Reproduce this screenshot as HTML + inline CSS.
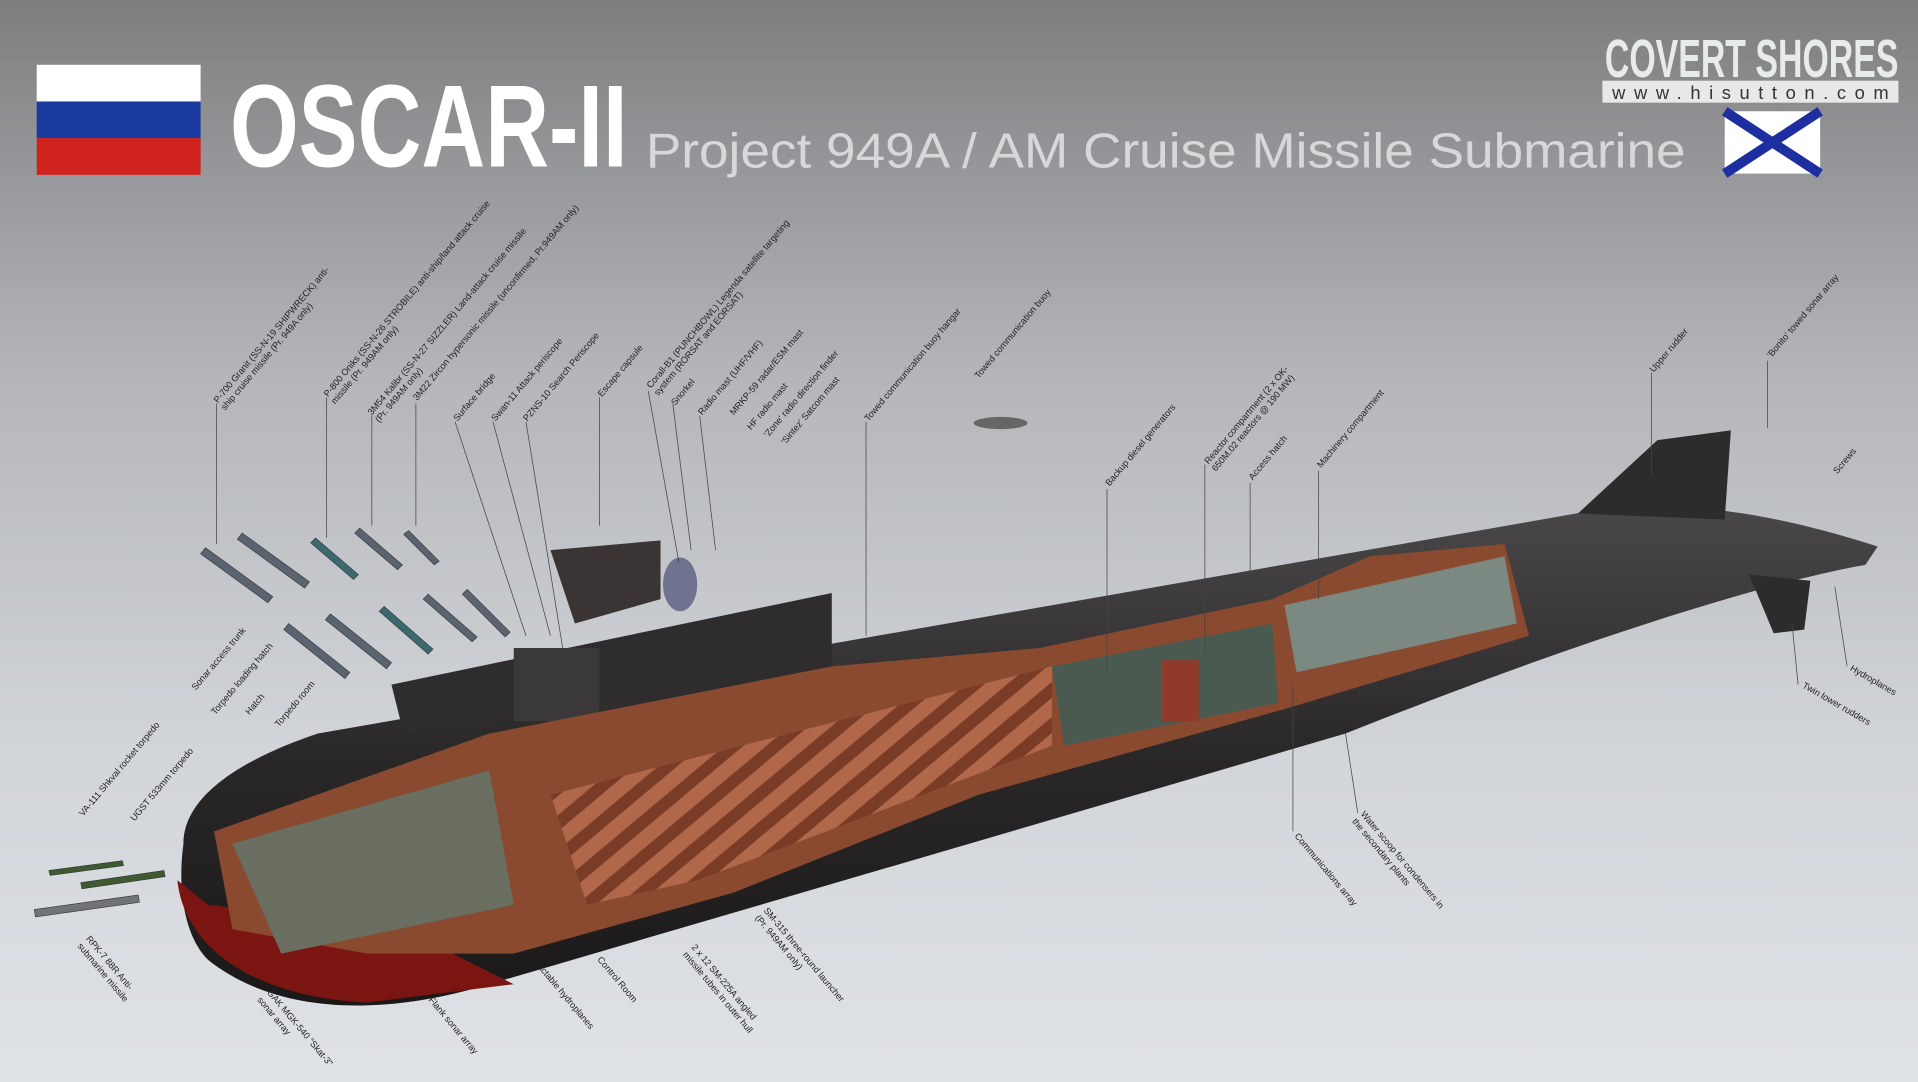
<!DOCTYPE html>
<html><head><meta charset="utf-8"><style>
html,body{margin:0;padding:0;width:1918px;height:1082px;overflow:hidden;background:#a0a2a6}
svg{display:block}
text{font-family:"Liberation Sans",sans-serif}
.l{font-size:7.5px;fill:#222}
</style></head><body>
<svg width="1918" height="1082" viewBox="0 0 1568 885" preserveAspectRatio="none">
<defs>
<linearGradient id="bg" x1="0" y1="0" x2="0" y2="1">
<stop offset="0" stop-color="#7e7e80"/><stop offset="0.35" stop-color="#b4b6ba"/><stop offset="0.7" stop-color="#d2d5d9"/><stop offset="1" stop-color="#dfe2e6"/></linearGradient>
<linearGradient id="hull" x1="0" y1="0" x2="0" y2="1">
<stop offset="0" stop-color="#4a4748"/><stop offset="0.5" stop-color="#2a2728"/><stop offset="1" stop-color="#1a1818"/></linearGradient>
<pattern id="tubes" width="22" height="22" patternUnits="userSpaceOnUse" patternTransform="rotate(50)">
<rect width="22" height="22" fill="#7a3c26"/><rect width="12" height="22" fill="#b0674a"/></pattern>
</defs>
<rect width="1568" height="885" fill="url(#bg)"/>
<!-- Russian flag -->
<rect x="30" y="53" width="134" height="30" fill="#fff"/>
<rect x="30" y="83" width="134" height="30" fill="#1b3aa0"/>
<rect x="30" y="113" width="134" height="30" fill="#d0231d"/>
<text x="188" y="136" font-size="96" font-weight="bold" fill="#fff" textLength="325" lengthAdjust="spacingAndGlyphs">OSCAR-II</text>
<text x="528" y="137" font-size="40" fill="#d8d8da" textLength="850" lengthAdjust="spacingAndGlyphs">Project 949A / AM Cruise Missile Submarine</text>
<text x="1312" y="63" font-size="44" font-weight="bold" fill="#e8ece8" textLength="240" lengthAdjust="spacingAndGlyphs">COVERT SHORES</text>
<rect x="1310" y="66" width="242" height="18" fill="#e8e8e8"/>
<text x="1318" y="81" font-size="15" fill="#333" textLength="226" lengthAdjust="spacing">www.hisutton.com</text>
<rect x="1410" y="91" width="78" height="51" fill="#fff"/>
<path d="M1410,91 L1488,142 M1488,91 L1410,142" stroke="#1d2ea0" stroke-width="8"/>
<!-- hull -->
<path d="M150,690 C150,650 200,620 260,600 L1300,418 C1380,408 1450,420 1535,447 L1525,462 C1450,475 1300,520 1100,600 L400,805 C300,835 220,825 170,785 C150,765 145,725 150,690 Z" fill="url(#hull)"/>
<path d="M145,720 C150,770 200,815 300,820 L420,805 L330,760 L170,740 Z" fill="#7a1512"/>
<!-- rudder -->
<path d="M1290,420 L1355,360 L1415,352 L1410,425 Z" fill="#2e2b2c"/>
<path d="M1430,470 L1480,475 L1475,515 L1450,518 Z" fill="#2e2b2c"/>
<!-- sail -->
<path d="M320,560 L440,535 L680,485 L680,560 L330,600 Z" fill="#2e2c2d"/>
<rect x="420" y="530" width="70" height="60" fill="#3a3839"/>
<path d="M450,450 L540,442 L540,490 L470,510 Z" fill="#3a3434"/>
<ellipse cx="556" cy="478" rx="14" ry="22" fill="#6f7390"/>
<!-- cutaway -->
<path d="M175,680 L400,600 L680,545 L850,530 L1040,490 L1120,455 L1230,445 L1250,520 L1050,580 L800,650 L600,730 L420,780 L300,780 L190,760 Z" fill="#8a4a30"/>
<path d="M450,650 L860,545 L860,610 L570,720 L480,740 Z" fill="url(#tubes)"/>
<path d="M190,690 L400,630 L420,740 L230,780 Z" fill="#6a6e60"/>
<path d="M1050,495 L1230,455 L1240,510 L1060,550 Z" fill="#7c8882"/>
<path d="M860,545 L1040,510 L1045,575 L870,610 Z" fill="#4a5a50"/>
<rect x="950" y="540" width="30" height="50" fill="#8f3a2a"/>
<!-- missiles -->
<g fill="#5a6470" stroke="#333" stroke-width="0.5">
<path d="M168,448 l55,40 l-4,5 l-55,-40z"/><path d="M198,436 l55,40 l-4,5 l-55,-40z"/>
<path d="M258,440 l35,30 l-4,4 l-35,-30z" fill="#3a6a70"/><path d="M294,432 l35,30 l-4,4 l-35,-30z"/>
<path d="M334,434 l25,25 l-4,3 l-25,-25z"/><path d="M236,510 l50,40 l-4,5 l-50,-40z"/>
<path d="M270,502 l50,40 l-4,5 l-50,-40z"/><path d="M314,496 l40,35 l-4,4 l-40,-35z" fill="#3a6a70"/>
<path d="M350,486 l40,35 l-4,4 l-40,-35z"/><path d="M382,482 l35,35 l-4,4 l-35,-35z"/>
<path d="M40,712 l60,-8 l1,4 l-60,8z" fill="#3f5a30"/><path d="M66,722 l68,-10 l1,5 l-68,10z" fill="#3f5a30"/>
<path d="M28,744 l85,-12 l1,6 l-85,12z" fill="#707478"/>
</g>
<ellipse cx="818" cy="346" rx="22" ry="5" fill="#666"/>
<!-- leader lines -->
<g stroke="#444" stroke-width="0.6">
<line x1="177" y1="330" x2="177" y2="445"/><line x1="267" y1="325" x2="267" y2="440"/>
<line x1="304" y1="340" x2="304" y2="430"/><line x1="340" y1="330" x2="340" y2="430"/>
<line x1="372" y1="345" x2="430" y2="520"/><line x1="403" y1="345" x2="450" y2="520"/>
<line x1="430" y1="345" x2="460" y2="530"/><line x1="490" y1="325" x2="490" y2="430"/>
<line x1="530" y1="320" x2="555" y2="460"/><line x1="550" y1="330" x2="565" y2="450"/>
<line x1="572" y1="340" x2="585" y2="450"/><line x1="708" y1="345" x2="708" y2="520"/>
<line x1="905" y1="400" x2="905" y2="550"/><line x1="985" y1="380" x2="985" y2="535"/>
<line x1="1022" y1="395" x2="1022" y2="468"/><line x1="1078" y1="385" x2="1078" y2="490"/>
<line x1="1350" y1="305" x2="1350" y2="390"/><line x1="1445" y1="295" x2="1445" y2="350"/>
<line x1="1057" y1="680" x2="1057" y2="560"/><line x1="1110" y1="665" x2="1100" y2="600"/>
<line x1="1470" y1="560" x2="1465" y2="510"/><line x1="1510" y1="545" x2="1500" y2="480"/>
</g>
<!-- labels -->
<g class="l">
<text transform="translate(178,330) rotate(-50)">P-700 Granit (SS-N-19 SHIPWRECK) anti-</text>
<text transform="translate(184,336) rotate(-50)">ship cruise missile (Pr. 949A only)</text>
<text transform="translate(268,325) rotate(-50)">P-800 Oniks (SS-N-26 STROBILE) anti-ship/land attack cruise</text>
<text transform="translate(274,331) rotate(-50)">missile (Pr. 949AM only)</text>
<text transform="translate(304,340) rotate(-50)">3M54 Kalibr (SS-N-27 SIZZLER) Land-attack cruise missile</text>
<text transform="translate(310,346) rotate(-50)">(Pr. 949AM only)</text>
<text transform="translate(341,328) rotate(-50)">3M22 Zircon hypersonic missile (unconfirmed, Pr.949AM only)</text>
<text transform="translate(374,345) rotate(-50)">Surface bridge</text>
<text transform="translate(405,345) rotate(-50)">Swan-11 Attack periscope</text>
<text transform="translate(431,345) rotate(-50)">PZNS-10 Search Periscope</text>
<text transform="translate(492,325) rotate(-50)">Escape capsule</text>
<text transform="translate(532,318) rotate(-50)">Corall-B1 (PUNCHBOWL) Legenda satellite targeting</text>
<text transform="translate(538,324) rotate(-50)">system (RORSAT and EORSAT)</text>
<text transform="translate(552,332) rotate(-50)">Snorkel</text>
<text transform="translate(574,340) rotate(-50)">Radio mast (UHF/VHF)</text>
<text transform="translate(600,340) rotate(-50)">MRKP-59 radar/ESM mast</text>
<text transform="translate(614,352) rotate(-50)">HF radio mast</text>
<text transform="translate(628,358) rotate(-50)">'Zone' radio direction finder</text>
<text transform="translate(642,364) rotate(-50)">'Sintez' Satcom mast</text>
<text transform="translate(710,345) rotate(-50)">Towed communication buoy hangar</text>
<text transform="translate(800,310) rotate(-50)">Towed communication buoy</text>
<text transform="translate(907,398) rotate(-50)">Backup diesel generators</text>
<text transform="translate(988,380) rotate(-50)">Reactor compartment (2 x OK-</text>
<text transform="translate(994,386) rotate(-50)">650M.02 reactors @ 190 MW)</text>
<text transform="translate(1024,393) rotate(-50)">Access hatch</text>
<text transform="translate(1080,383) rotate(-50)">Machinery compartment</text>
<text transform="translate(1352,305) rotate(-50)">Upper rudder</text>
<text transform="translate(1448,293) rotate(-50)">'Bonito' towed sonar array</text>
<text transform="translate(1502,388) rotate(-50)">Screws</text>
<text transform="translate(160,565) rotate(-50)">Sonar access trunk</text>
<text transform="translate(176,585) rotate(-50)">Torpedo loading hatch</text>
<text transform="translate(204,585) rotate(-50)">Hatch</text>
<text transform="translate(228,595) rotate(-50)">Torpedo room</text>
<text transform="translate(68,668) rotate(-50)">VA-111 Shkval rocket torpedo</text>
<text transform="translate(110,672) rotate(-50)">UGST 533mm torpedo</text>
<text transform="translate(70,768) rotate(50)">RPK-7 88R Anti-</text>
<text transform="translate(63,774) rotate(50)">submarine missile</text>
<text transform="translate(218,812) rotate(50)">GAK MGK-540 "Skat-3"</text>
<text transform="translate(210,818) rotate(50)">sonar array</text>
<text transform="translate(350,818) rotate(50)">Flank sonar array</text>
<text transform="translate(430,780) rotate(50)">Retractable hydroplanes</text>
<text transform="translate(488,785) rotate(50)">Control Room</text>
<text transform="translate(565,775) rotate(50)">2 x 12 SM-225A angled</text>
<text transform="translate(558,781) rotate(50)">missile tubes in outer hull</text>
<text transform="translate(624,745) rotate(50)">SM-315 three-round launcher</text>
<text transform="translate(617,751) rotate(50)">(Pr. 949AM only)</text>
<text transform="translate(1058,684) rotate(50)">Communications array</text>
<text transform="translate(1112,666) rotate(50)">Water scoop for condensers in</text>
<text transform="translate(1105,672) rotate(50)">the secondary plants</text>
<text transform="translate(1473,562) rotate(30)">Twin lower rudders</text>
<text transform="translate(1512,548) rotate(30)">Hydroplanes</text>
</g>
</svg>
</body></html>
